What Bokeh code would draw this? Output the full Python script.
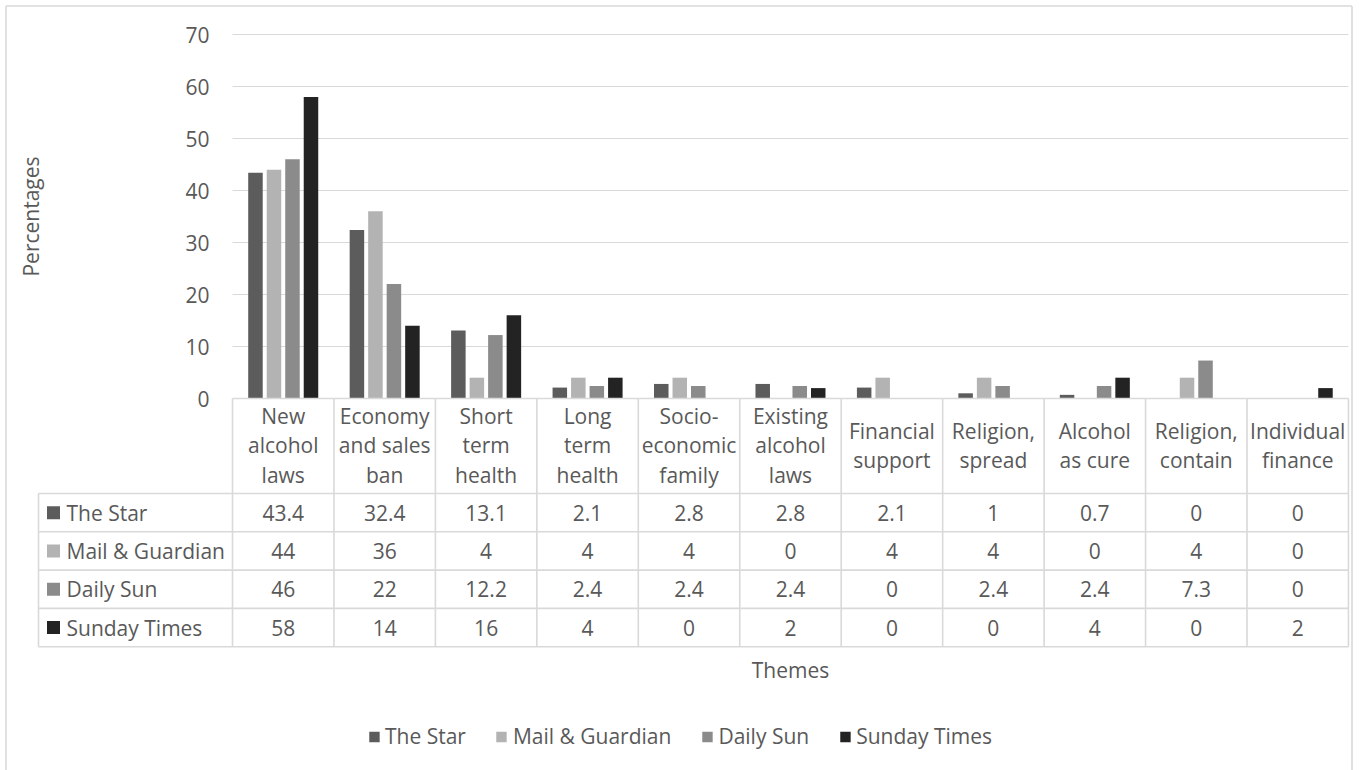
import numpy as np
from bokeh.plotting import figure
from bokeh.models import ColumnDataSource, Range1d, FixedTicker, Legend, LegendItem
from bokeh.core.properties import value
from bokeh.embed import file_html
from bokeh.resources import INLINE

# ---------------- data ----------------
themes = ["New alcohol laws", "Economy and sales ban", "Short term health", "Long term health",
          "Socio-economic family", "Existing alcohol laws", "Financial support", "Religion, spread",
          "Alcohol as cure", "Religion, contain", "Individual finance"]
theme_labels = ["New\nalcohol\nlaws", "Economy\nand sales\nban", "Short\nterm\nhealth", "Long\nterm\nhealth",
                "Socio-\neconomic\nfamily", "Existing\nalcohol\nlaws", "Financial\nsupport", "Religion,\nspread",
                "Alcohol\nas cure", "Religion,\ncontain", "Individual\nfinance"]
series = ["The Star", "Mail & Guardian", "Daily Sun", "Sunday Times"]
the_star = [43.4, 32.4, 13.1, 2.1, 2.8, 2.8, 2.1, 1, 0.7, 0, 0]
mail_guardian = [44, 36, 4, 4, 4, 0, 4, 4, 0, 4, 0]
daily_sun = [46, 22, 12.2, 2.4, 2.4, 2.4, 0, 2.4, 2.4, 7.3, 0]
sunday_times = [58, 14, 16, 4, 0, 2, 0, 0, 4, 0, 2]
y_ticks = [0, 10, 20, 30, 40, 50, 60, 70]
x_title = "Themes"
y_title = "Percentages"

# ---------------- style ----------------
colors = ["#5c5c5c", "#b3b3b3", "#8b8b8b", "#232323"]
TXT = "#595959"
LINE = "#d9d9d9"
FONT = "Open Sans"
FS = "21px"

W, H = 1359, 770
X0_PX, COL_PX = 232.0, 101.45             # left of category area, category width
Y0_PX, UNIT_PX = 398.0, 5.2               # y=0 pixel row, px per percent
HDR_BOTTOM, ROW_H = 493.0, 38.3
TABLE_LEFT = 38.0


def xd(px):
    return (px - X0_PX) / COL_PX


def yd(py):
    return (Y0_PX - py) / UNIT_PX


p = figure(width=W, height=H, output_backend="svg", toolbar_location=None,
           x_range=Range1d(xd(0), xd(W)), y_range=Range1d(yd(H), yd(0)),
           min_border_left=0, min_border_top=0, min_border_right=0, min_border_bottom=0,
           x_axis_location=None, y_axis_location="left")
p.xgrid.visible = False
p.ygrid.visible = False
p.outline_line_color = None
p.background_fill_color = "white"
p.border_fill_color = "white"

# chart area border (left, top, right; bottom lies below the window)
p.segment(x0=[xd(5.5), xd(5.5), xd(1351.5)], x1=[xd(5.5), xd(1351.5), xd(1351.5)],
          y0=[yd(H + 5), yd(5.5), yd(5.5)], y1=[yd(5.5), yd(5.5), yd(H + 5)],
          line_color=LINE, line_width=1.6)

# y axis fixed at the left edge of the category area
ax = p.yaxis[0]
ax.fixed_location = 0
ax.bounds = (y_ticks[0], y_ticks[-1])
ax.ticker = FixedTicker(ticks=y_ticks)
ax.axis_line_color = None
ax.major_tick_line_color = None
ax.minor_tick_line_color = None
ax.major_label_standoff = 17
ax.major_label_text_font = FONT
ax.major_label_text_font_size = FS
ax.major_label_text_color = TXT
ax.axis_label = y_title
ax.axis_label_text_font = FONT
ax.axis_label_text_font_size = FS
ax.axis_label_text_color = TXT
ax.axis_label_text_font_style = "normal"
ax.axis_label_standoff = 137

n = len(themes)
xc = np.arange(n) + 0.5

# gridlines over the category area
gt = [t for t in y_ticks if t > 0]
p.segment(x0=[0] * len(gt), x1=[n] * len(gt), y0=gt, y1=gt, line_color=LINE, line_width=1.2)

# bars
offsets = [-0.2736, -0.0912, 0.0912, 0.2736]
all_vals = [the_star, mail_guardian, daily_sun, sunday_times]
renderers = []
for k, (name, vals, col) in enumerate(zip(series, all_vals, colors)):
    src = ColumnDataSource(dict(x=xc + offsets[k], top=vals))
    r = p.vbar(x="x", top="top", bottom=0, width=0.143, source=src, fill_color=col, line_color=None)
    renderers.append(r)

# data table
table_bottom = HDR_BOTTOM + ROW_H * len(series)
p.segment(x0=list(range(n + 1)), x1=list(range(n + 1)), y0=[0] * (n + 1), y1=[yd(table_bottom)] * (n + 1),
          line_color=LINE, line_width=1.6)
p.segment(x0=[0], x1=[n], y0=[0], y1=[0], line_color=LINE, line_width=1.6)
row_lines = [yd(HDR_BOTTOM + ROW_H * k) for k in range(len(series) + 1)]
p.segment(x0=[xd(TABLE_LEFT)] * len(row_lines), x1=[n] * len(row_lines), y0=row_lines, y1=row_lines,
          line_color=LINE, line_width=1.6)
p.segment(x0=[xd(TABLE_LEFT)], x1=[xd(TABLE_LEFT)], y0=[yd(HDR_BOTTOM)], y1=[yd(table_bottom)],
          line_color=LINE, line_width=1.6)

# header (category labels)
p.text(x=xc, y=[yd(445)] * n, text=theme_labels, text_align="center", text_baseline="middle",
       text_font=value(FONT), text_font_size=FS, text_color=TXT, text_line_height=1.05)

# rows
for k, (name, vals, col) in enumerate(zip(series, all_vals, colors)):
    yr = yd(HDR_BOTTOM + ROW_H * (k + 0.5))
    p.scatter(x=[xd(53)], y=[yr], marker="square", size=13, fill_color=col, line_color=None)
    p.text(x=[xd(66)], y=[yr], text=[name], text_align="left", text_baseline="middle",
           text_font=value(FONT), text_font_size=FS, text_color=TXT)
    p.text(x=xc, y=[yr] * n, text=[f"{v:g}" for v in vals], text_align="center", text_baseline="middle",
           text_font=value(FONT), text_font_size=FS, text_color=TXT)

# x title
p.text(x=[n / 2], y=[yd(669)], text=[x_title], text_align="center", text_baseline="middle",
       text_font=value(FONT), text_font_size=FS, text_color=TXT)

legend = Legend(items=[LegendItem(label=s, renderers=[r]) for s, r in zip(series, renderers)],
                orientation="horizontal", location="bottom_center",
                glyph_width=13, glyph_height=13, label_standoff=5, spacing=29,
                padding=0, margin=20, border_line_color=None, background_fill_alpha=0,
                label_text_font=FONT, label_text_font_size=FS, label_text_color=TXT)
p.add_layout(legend)

open("out.html", "w").write(file_html(p, INLINE))
